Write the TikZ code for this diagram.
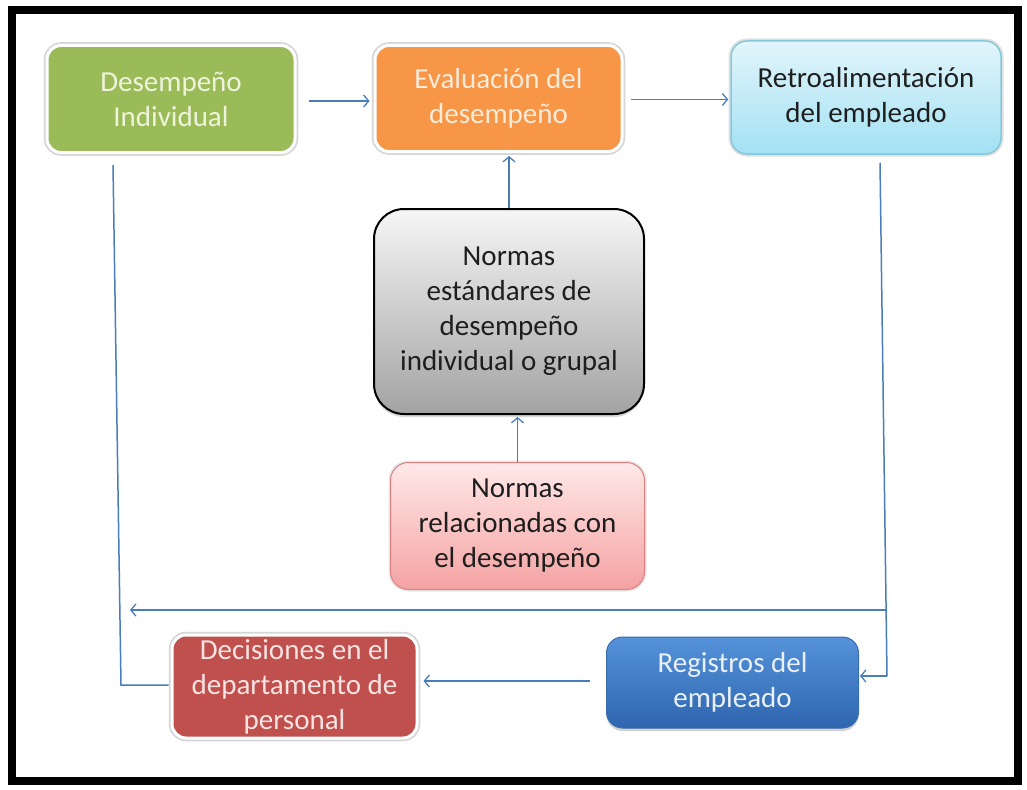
\documentclass[tikz,border=0pt]{standalone}
\usepackage{fontspec}
\setmainfont{Carlito}
\usetikzlibrary{arrows.meta,shadows}
\definecolor{cgreen}{HTML}{9BBB59}
\definecolor{corange}{HTML}{F79646}
\definecolor{cred}{HTML}{C0504D}
\definecolor{tgreen}{HTML}{EEF4DC}
\definecolor{torange}{HTML}{FDEBD9}
\definecolor{tred}{HTML}{F7E3E2}
\definecolor{tblue}{HTML}{EAF0F8}
\definecolor{cline}{HTML}{4A7EBB}
\definecolor{cretroA}{HTML}{E2F5FB}
\definecolor{cretroB}{HTML}{A3E1F3}
\definecolor{cretroD}{HTML}{86C8DB}
\definecolor{cgrayA}{HTML}{F6F6F6}
\definecolor{cgrayB}{HTML}{A3A3A3}
\definecolor{cpinkA}{HTML}{FFE8E8}
\definecolor{cpinkB}{HTML}{F4A2A2}
\definecolor{cpinkD}{HTML}{DC8080}
\definecolor{cblueA}{HTML}{5592DA}
\definecolor{cblueB}{HTML}{2E66AF}
\definecolor{cblueD}{HTML}{3A6DAE}
\definecolor{tdark}{HTML}{1E1E1E}
\begin{document}
\begin{tikzpicture}[x=1pt,y=-1pt,
  box/.style={align=center, inner sep=0pt, font=\fontsize{29}{35}\selectfont},
  glow/.style={rounded corners=14pt, preaction={draw=black!16, line width=6.5pt}, draw=white, line width=3pt},
  arr/.style={draw=cline, line width=1.5pt, -{Straight Barb[length=5pt,width=12pt,line width=1.3pt]}},
  ln/.style={draw=cline, line width=1.5pt}]
\useasboundingbox (0,0) rectangle (1027,789);
\fill[white] (0,0) rectangle (1027,789);
\draw[line width=8pt] (12,10) rectangle (1018,781);

\node[box, glow, fill=cgreen, text=tgreen, minimum width=248pt, minimum height=107pt] (g) at (171,99) {Desempeño\\Individual};
\node[box, glow, fill=corange, text=torange, minimum width=247pt, minimum height=106pt] (o) at (498.5,98.5) {Evaluación del\\desempeño};
\node[box, rounded corners=16pt, top color=cretroA, bottom color=cretroB, draw=cretroD, line width=1.5pt,
      preaction={draw=black!12, line width=5pt}, text=tdark, minimum width=270pt, minimum height=113pt] (r) at (866,97.5) {Retroalimentación\\del empleado};
\node[box, rounded corners=30pt, top color=cgrayA, bottom color=cgrayB, draw=black, line width=2pt,
      drop shadow={shadow xshift=0pt, shadow yshift=-3pt, fill=black!30, opacity=0.5},
      text=tdark, minimum width=270pt, minimum height=205pt] (gr) at (509,311.5) {Normas\\estándares de\\desempeño\\individual o grupal};
\node[box, rounded corners=18pt, top color=cpinkA, bottom color=cpinkB, draw=cpinkD, line width=1pt,
      preaction={draw=black!10, line width=4pt}, text=tdark, minimum width=254pt, minimum height=127pt] (p) at (517.5,526) {Normas\\relacionadas con\\el desempeño};
\node[box, glow, fill=cred, text=tred, minimum width=245pt, minimum height=103pt] (d) at (294.5,686.5) {Decisiones en el\\departamento de\\personal};
\node[box, rounded corners=16pt, top color=cblueA, bottom color=cblueB, draw=cblueD, line width=1pt,
      drop shadow={shadow xshift=0pt, shadow yshift=-3pt, fill=black!35, opacity=0.5},
      text=tblue, minimum width=252pt, minimum height=91pt] (b) at (732.5,682.5) {Registros del\\empleado};

% top row arrows
\coordinate (ge) at ([xshift=12pt,yshift=-2pt]g.east);
\coordinate (oe) at ([xshift=7pt,yshift=-1pt]o.east);
\coordinate (bw) at ([xshift=-16pt,yshift=1.5pt]b.west);
\draw[arr] (ge) -- ([xshift=-4pt]o.west |- ge);
\draw[arr] (oe) -- ([xshift=-2pt]r.west |- oe);
% vertical arrows in the middle
\draw[arr] (gr.north) -- ([yshift=-3pt]gr.north |- o.south);
\draw[arr] (p.north) -- ([yshift=-2pt]p.north |- gr.south);

% right loop
\coordinate (rtop) at ([xshift=14pt,yshift=-8pt]r.south);
\coordinate (rbot) at (887,676);
\coordinate (rmid) at (886,610);
\coordinate (lmid) at (130,610);
\draw[ln] (rtop) -- (rbot);
\draw[arr] (rbot) -- ([xshift=1pt]rbot -| b.east);
\draw[arr] (rmid) -- (lmid);

% bottom row
\draw[arr] (bw) -- ([xshift=5pt]d.east |- bw);

% left loop
\coordinate (ltop) at ([xshift=-58pt,yshift=-11pt]g.south);
\coordinate (lbot) at (121,685);
\draw[ln] ([xshift=-2pt]d.west |- lbot) -- (lbot) -- (ltop);
\end{tikzpicture}
\end{document}
